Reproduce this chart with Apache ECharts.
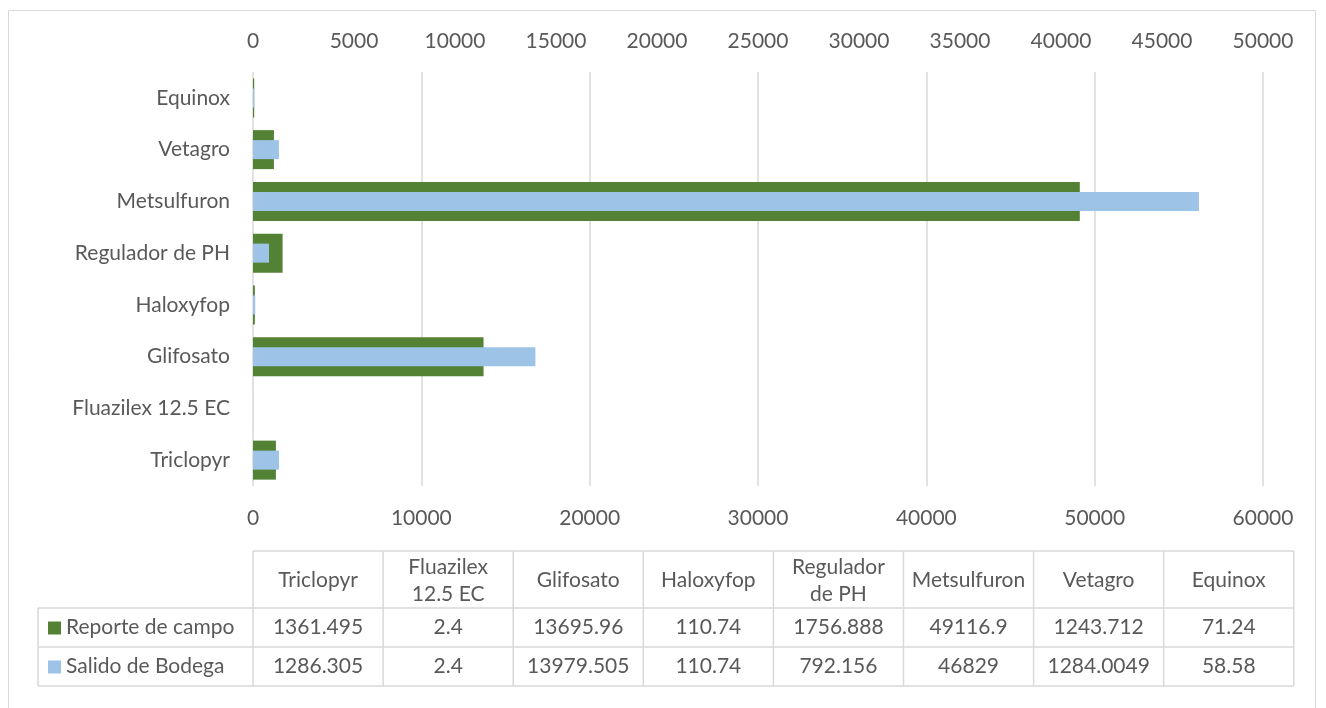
<!DOCTYPE html>
<html>
<head>
<meta charset="utf-8">
<script src="https://cdn.jsdelivr.net/npm/echarts@6/dist/echarts.min.js"></script>
<style>
html,body{margin:0;padding:0;background:#fff;}
#main{width:1326px;height:708px;}
</style>
</head>
<body>
<div id="main"></div>
<script>
var categories = ['Triclopyr', 'Fluazilex 12.5 EC', 'Glifosato', 'Haloxyfop', 'Regulador de PH', 'Metsulfuron', 'Vetagro', 'Equinox'];
var tableHeaders = ['Triclopyr', 'Fluazilex\n12.5 EC', 'Glifosato', 'Haloxyfop', 'Regulador\nde PH', 'Metsulfuron', 'Vetagro', 'Equinox'];
var seriesNames = ['Reporte de campo', 'Salido de Bodega'];
var reporteCampo = [1361.495, 2.4, 13695.96, 110.74, 1756.888, 49116.9, 1243.712, 71.24];
var salidoBodega = [1286.305, 2.4, 13979.505, 110.74, 792.156, 46829, 1284.0049, 58.58];
var bottomTicks = {min: 0, max: 60000, interval: 10000};
var topTicks = {min: 0, max: 50000, interval: 5000};

var colors = ['#548235', '#9DC3E6'];
var textColor = '#595959';
var lineColor = '#D9D9D9';
var fontFamily = 'Lato, "Open Sans", sans-serif';
var fontSize = 21;

var chart = echarts.init(document.getElementById('main'), null, {renderer: 'canvas'});

// table layout
var tblLeft = 38, colStart = 253, colW = 130.1, nCol = categories.length;
var yTop = 551, yHead = 608, yRow1 = 647, yRow2 = 686;
var tblRight = colStart + colW * nCol;
var g = [];
function line(x1, y1, x2, y2) {
  g.push({type: 'line', silent: true, shape: {x1: x1, y1: y1, x2: x2, y2: y2},
    style: {stroke: lineColor, lineWidth: 1.5}});
}
// outer border
g.push({type: 'rect', silent: true, shape: {x: 8.5, y: 10.5, width: 1307, height: 720},
  style: {fill: null, stroke: lineColor, lineWidth: 1}});
line(colStart, yTop, tblRight, yTop);
line(tblLeft, yHead, tblRight, yHead);
line(tblLeft, yRow1, tblRight, yRow1);
line(tblLeft, yRow2, tblRight, yRow2);
line(tblLeft, yHead, tblLeft, yRow2);
for (var i = 0; i <= nCol; i++) {
  line(colStart + i * colW, yTop, colStart + i * colW, yRow2);
}
var rows = [reporteCampo, salidoBodega];
var rowY = [(yHead + yRow1) / 2, (yRow1 + yRow2) / 2];
for (var c = 0; c < nCol; c++) {
  var cx = colStart + colW * (c + 0.5);
  g.push({type: 'text', silent: true, x: cx, y: (yTop + yHead) / 2 + 1,
    style: {text: tableHeaders[c], fill: textColor, font: fontSize + 'px ' + fontFamily,
      align: 'center', verticalAlign: 'middle', lineHeight: 27}});
  for (var r = 0; r < 2; r++) {
    g.push({type: 'text', silent: true, x: cx, y: rowY[r],
      style: {text: String(rows[r][c]), fill: textColor, font: fontSize + 'px ' + fontFamily,
        align: 'center', verticalAlign: 'middle'}});
  }
}
for (var r = 0; r < 2; r++) {
  g.push({type: 'rect', silent: true, shape: {x: 48, y: rowY[r] - 6, width: 13, height: 13},
    style: {fill: colors[r]}});
  g.push({type: 'text', silent: true, x: 66, y: rowY[r],
    style: {text: seriesNames[r], fill: textColor, font: fontSize + 'px ' + fontFamily,
      align: 'left', verticalAlign: 'middle'}});
}

var axisLabelStyle = {color: textColor, fontSize: fontSize, fontFamily: fontFamily,
  formatter: function (v) { return String(v); }};

chart.setOption({
  backgroundColor: '#fff',
  animation: false,
  grid: {left: 253, right: 63, top: 72, bottom: 222},
  xAxis: [
    {type: 'value', position: 'bottom', min: bottomTicks.min, max: bottomTicks.max, interval: bottomTicks.interval,
      axisLine: {show: false}, axisTick: {show: false},
      splitLine: {show: true, lineStyle: {color: lineColor, width: 1.5}},
      axisLabel: Object.assign({margin: 22}, axisLabelStyle)},
    {type: 'value', position: 'top', min: topTicks.min, max: topTicks.max, interval: topTicks.interval,
      axisLine: {show: false}, axisTick: {show: false}, splitLine: {show: false},
      axisLabel: Object.assign({margin: 20}, axisLabelStyle)}
  ],
  yAxis: [
    {type: 'category', data: categories, axisLine: {show: false}, axisTick: {show: false},
      axisLabel: Object.assign({margin: 23}, axisLabelStyle, {formatter: null})},
    {type: 'category', data: categories, show: false}
  ],
  series: [
    {name: seriesNames[0], type: 'bar', xAxisIndex: 0, yAxisIndex: 0, data: reporteCampo,
      barWidth: 39, itemStyle: {color: colors[0]}},
    {name: seriesNames[1], type: 'bar', xAxisIndex: 1, yAxisIndex: 1, data: salidoBodega,
      barWidth: 19, itemStyle: {color: colors[1]}}
  ],
  graphic: g
});
</script>
</body>
</html>
